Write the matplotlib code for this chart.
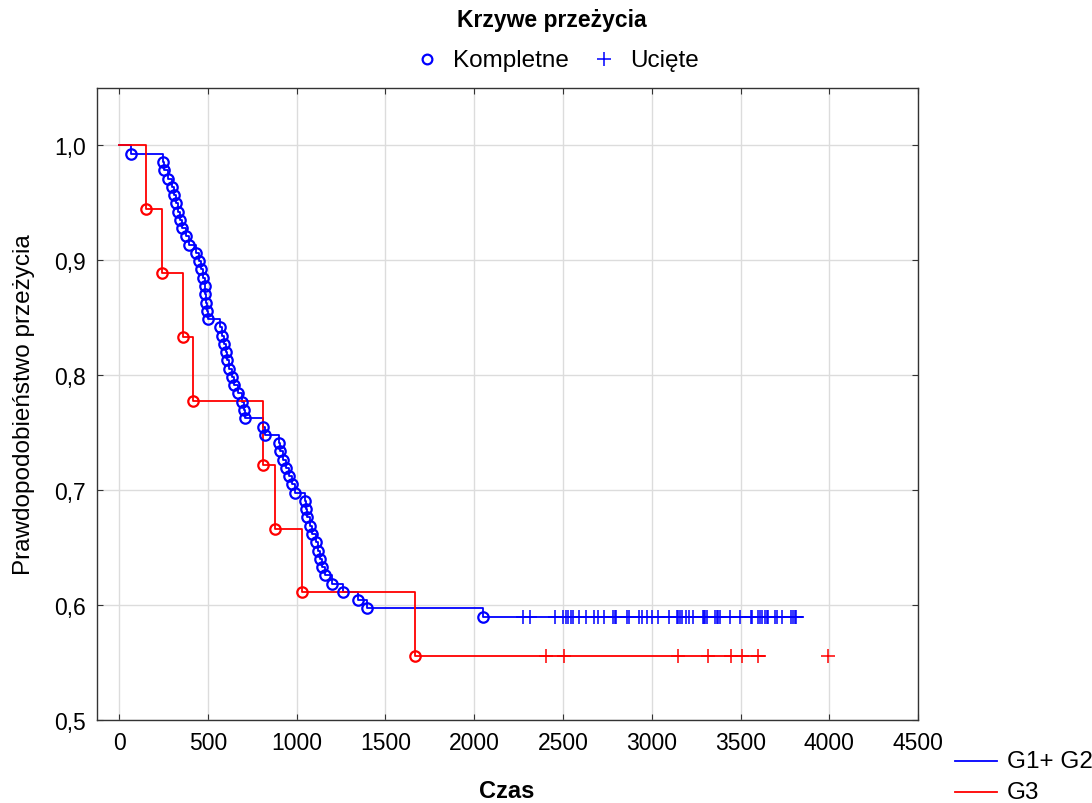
import matplotlib
matplotlib.use("Agg")
import matplotlib.pyplot as plt
from matplotlib.lines import Line2D
import numpy as np

plt.rcParams['font.family'] = ['Liberation Sans', 'DejaVu Sans']

# G1+G2: event (death) times, censored times, group size
g12_n = 139
g12_events = [68, 248, 253, 276, 298, 310, 321, 332, 343, 355, 377, 394,
              434, 451, 462, 473, 484, 486, 490, 496, 501, 569, 580, 591,
              603, 608, 620, 636, 648, 670, 693, 704, 710, 811, 822, 901,
              907, 924, 941, 957, 974, 991, 1048, 1053, 1059, 1076, 1087,
              1110, 1121, 1132, 1143, 1160, 1200, 1262, 1346, 1397, 2050]
g12_censored = [2277, 2315, 2456, 2502, 2516, 2531, 2546, 2559, 2591, 2628,
                2675, 2700, 2732, 2784, 2792, 2799, 2859, 2870, 2930, 2944,
                2974, 3004, 3034, 3099, 3141, 3150, 3160, 3169, 3193, 3209,
                3231, 3289, 3295, 3300, 3312, 3357, 3368, 3374, 3385, 3441,
                3498, 3560, 3565, 3599, 3610, 3621, 3638, 3650, 3655, 3695,
                3706, 3734, 3785, 3796, 3807, 3813]
g12_end = 3852

# G3
g3_n = 18
g3_events = [152, 242, 360, 417, 811, 879, 1031, 1668]
g3_censored = [2405, 2508, 3150, 3319, 3445, 3511, 3601, 3995]
g3_end = 3638

xticks = [0, 500, 1000, 1500, 2000, 2500, 3000, 3500, 4000, 4500]
yticks = [0.5, 0.6, 0.7, 0.8, 0.9, 1.0]


def km(events, n):
    surv = []
    s = 1.0
    at_risk = n
    for _ in events:
        s *= 1 - 1 / at_risk
        at_risk -= 1
        surv.append(s)
    return surv


def draw_group(ax, events, censored, n, end, color):
    surv = km(events, n)
    xs = [0] + events + [end]
    ys = [1.0] + surv + [surv[-1]]
    ax.step(xs, ys, where='post', color=color, lw=1.3, zorder=3)
    ax.plot(events, surv, ls='none', marker='o', ms=7.5, mfc='none',
            mec=color, mew=1.6, zorder=4)
    ax.plot(censored, [surv[-1]] * len(censored), ls='none', marker='+',
            ms=10, mec=color, mew=1.1, zorder=4)


fig = plt.figure(figsize=(10.92, 8.04), dpi=100)
ax = fig.add_axes([0.0888, 0.1032, 0.7519, 0.7861])

draw_group(ax, g12_events, g12_censored, g12_n, g12_end, '#0000ff')
draw_group(ax, g3_events, g3_censored, g3_n, g3_end, '#ff0000')

ax.set_xlim(-125, 4500)
ax.set_ylim(0.5, 1.05)
ax.set_xticks(xticks)
ax.set_yticks(yticks)
ax.set_yticklabels([f"{v:.1f}".replace('.', ',') for v in yticks])
ax.tick_params(direction='in', length=4, top=True, right=True,
               labelsize=16.5, pad=8, color='#333333')
ax.grid(True, color='#dcdcdc', lw=1.0)
ax.set_axisbelow(True)
for sp in ax.spines.values():
    sp.set_color('#333333')
    sp.set_linewidth(1.0)

ax.set_ylabel("Prawdopodobieństwo przeżycia", fontsize=17.5, labelpad=14)
fig.text(507 / 1092, 1 - 792 / 804, "Czas", ha='center', va='center',
         fontsize=17, fontweight='bold')

# title and marker legend at the top
fig.text(0.505, 1 - 20 / 804, "Krzywe przeżycia", ha='center', va='center',
         fontsize=16.5, fontweight='bold')
fig.add_artist(Line2D([427 / 1092], [1 - 60 / 804], ls='none', marker='o',
                      ms=7, mfc='none', mec='#0000ff', mew=1.6))
fig.text(453 / 1092, 1 - 61 / 804, "Kompletne", ha='left', va='center',
         fontsize=17.5)
fig.add_artist(Line2D([604 / 1092], [1 - 60 / 804], ls='none', marker='+',
                      ms=10, mec='#0000ff', mew=1.1))
fig.text(630 / 1092, 1 - 61 / 804, "Ucięte", ha='left', va='center',
         fontsize=17.5)

# group legend at the bottom right
for y, color, label in [(762, '#0000ff', "G1+ G2"), (793, '#ff0000', "G3")]:
    fig.add_artist(Line2D([955 / 1092, 997 / 1092], [1 - y / 804] * 2,
                          color=color, lw=1.3))
    fig.text(1007 / 1092, 1 - y / 804, label, ha='left', va='center',
             fontsize=17.5)

fig.savefig("out.png", dpi=100)
